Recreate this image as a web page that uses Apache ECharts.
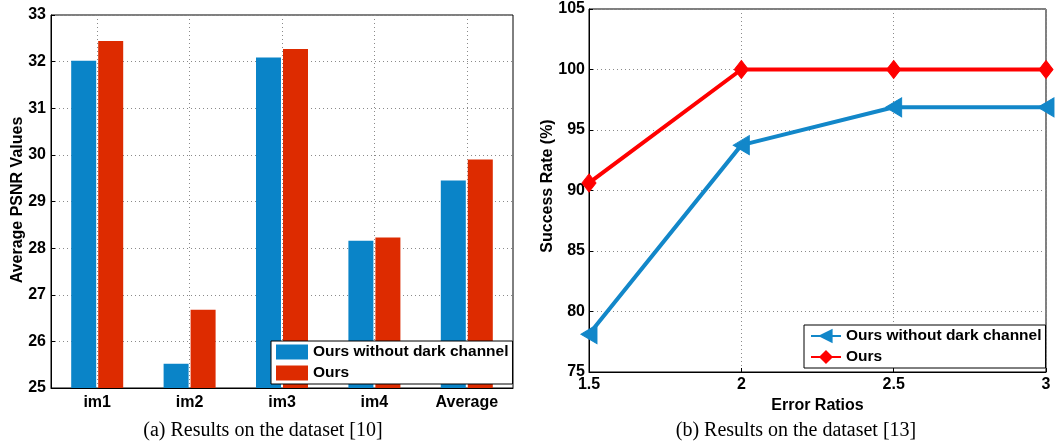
<!DOCTYPE html>
<html>
<head>
<meta charset="utf-8">
<script src="https://cdn.jsdelivr.net/npm/echarts@6/dist/echarts.min.js"></script>
<style>
  html, body { margin: 0; padding: 0; background: #fff; }
  #main { width: 1057px; height: 444px; }
</style>
</head>
<body>
<div id="main"></div>
<script>
// (a) bar chart data
let imageNames = ['im1', 'im2', 'im3', 'im4', 'Average']
let psnrNoDark = [32.02, 25.52, 32.09, 28.16, 29.45]
let psnrOurs = [32.44, 26.68, 32.27, 28.23, 29.90]

// (b) line chart data
let errorRatios = [1.5, 2, 2.5, 3]
let successNoDark = [78.125, 93.75, 96.875, 96.875]
let successOurs = [90.625, 100, 100, 100]

let seriesNames = ['Ours without dark channel', 'Ours']

let chart = echarts.init(document.getElementById('main'))

let font = 'Liberation Sans, Arial, sans-serif'
let boldText = { fontFamily: font, fontWeight: 'bold', fontSize: 16, color: '#000' }
let legendText = { fontFamily: font, fontWeight: 'bold', fontSize: 15.5, color: '#000' }
let dotted = { color: '#8a8a8a', width: 1, type: [1, 3] }
let blackLine = { color: '#000', width: 1 }
let captionFont = '20px Liberation Serif, Times New Roman, serif'

function pairs(xs, ys) {
  return xs.map((x, i) => [x, ys[i]])
}

let option = {
  animation: false,
  grid: [
    { left: 51, right: 544, top: 15, bottom: 56, show: true, borderColor: '#000', borderWidth: 1 },
    { left: 589, right: 11, top: 9, bottom: 72, show: true, borderColor: '#000', borderWidth: 1 }
  ],
  legend: [
    {
      data: seriesNames.map(n => ({ name: n })),
      orient: 'vertical',
      left: 271, top: 341,
      itemWidth: 32, itemHeight: 15, itemGap: 5,
      padding: [3, 4, 3, 5],
      icon: 'rect',
      borderColor: '#000', borderWidth: 1,
      backgroundColor: '#fff',
      textStyle: legendText,
      selectedMode: false
    },
    {
      data: ['bnd', 'bo'].map(n => ({ name: n })),
      orient: 'vertical',
      left: 804, top: 325,
      itemWidth: 30, itemHeight: 14, itemGap: 5,
      padding: [3, 4, 3, 6],
      borderColor: '#000', borderWidth: 1,
      backgroundColor: '#fff',
      textStyle: legendText,
      formatter: n => n === 'bnd' ? seriesNames[0] : seriesNames[1],
      selectedMode: false
    }
  ],
  xAxis: [
    {
      gridIndex: 0,
      type: 'category',
      data: imageNames,
      axisLine: { lineStyle: blackLine },
      axisTick: { inside: true, length: 4, alignWithLabel: true, lineStyle: blackLine },
      axisLabel: Object.assign({ margin: 7 }, boldText),
      splitLine: { show: true, alignWithLabel: true, lineStyle: dotted }
    },
    {
      gridIndex: 1,
      type: 'value',
      min: 1.5, max: 3, interval: 0.5,
      axisLine: { lineStyle: blackLine },
      axisTick: { inside: true, length: 4, lineStyle: blackLine },
      axisLabel: Object.assign({ margin: 5 }, boldText),
      splitLine: { show: true, lineStyle: dotted },
      name: 'Error Ratios',
      nameLocation: 'middle',
      nameGap: 21,
      nameTextStyle: boldText
    }
  ],
  yAxis: [
    {
      gridIndex: 0,
      type: 'value',
      min: 25, max: 33, interval: 1,
      axisLine: { show: true, lineStyle: blackLine },
      axisTick: { show: true, inside: true, length: 4, lineStyle: blackLine },
      axisLabel: Object.assign({ margin: 5 }, boldText),
      splitLine: { show: true, lineStyle: dotted }
    },
    {
      gridIndex: 1,
      type: 'value',
      min: 75, max: 105, interval: 5,
      axisLine: { show: true, lineStyle: blackLine },
      axisTick: { show: true, inside: true, length: 4, lineStyle: blackLine },
      axisLabel: Object.assign({ margin: 4 }, boldText),
      splitLine: { show: true, lineStyle: dotted }
    }
  ],
  series: [
    {
      name: seriesNames[0],
      type: 'bar',
      xAxisIndex: 0, yAxisIndex: 0,
      data: psnrNoDark,
      barWidth: 25,
      barGap: '8%',
      itemStyle: { color: '#0A84C8' }
    },
    {
      name: seriesNames[1],
      type: 'bar',
      xAxisIndex: 0, yAxisIndex: 0,
      data: psnrOurs,
      barWidth: 25,
      itemStyle: { color: '#DD2B00' }
    },
    {
      name: 'bnd',
      type: 'line',
      xAxisIndex: 1, yAxisIndex: 1,
      data: pairs(errorRatios, successNoDark),
      lineStyle: { color: '#1287C9', width: 4 },
      symbol: 'triangle',
      symbolRotate: 90,
      symbolSize: [19, 16],
      itemStyle: { color: '#1287C9', borderColor: '#1287C9', borderWidth: 1 },
      z: 3
    },
    {
      name: 'bo',
      type: 'line',
      xAxisIndex: 1, yAxisIndex: 1,
      data: pairs(errorRatios, successOurs),
      lineStyle: { color: '#FF0000', width: 4 },
      symbol: 'diamond',
      symbolSize: [14, 18],
      itemStyle: { color: '#FF0000', borderColor: '#FF0000', borderWidth: 1 },
      z: 4
    }
  ],
  graphic: [
    {
      type: 'text', x: 18, y: 200,
      rotation: Math.PI / 2,
      style: { text: 'Average PSNR Values', font: 'bold 16px ' + font, fill: '#000', align: 'center', verticalAlign: 'middle' }
    },
    {
      type: 'text', x: 548, y: 186,
      rotation: Math.PI / 2,
      style: { text: 'Success Rate (%)', font: 'bold 16px ' + font, fill: '#000', align: 'center', verticalAlign: 'middle' }
    },
    {
      type: 'text', x: 263, y: 431,
      style: { text: '(a) Results on the dataset [10]', font: captionFont, fill: '#000', align: 'center', verticalAlign: 'middle' }
    },
    {
      type: 'text', x: 796, y: 431,
      style: { text: '(b) Results on the dataset [13]', font: captionFont, fill: '#000', align: 'center', verticalAlign: 'middle' }
    }
  ]
}

chart.setOption(option)
</script>
</body>
</html>
